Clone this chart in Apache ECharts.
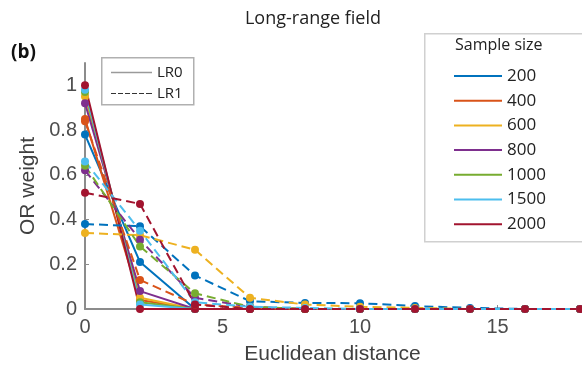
<!DOCTYPE html>
<html>
<head>
<meta charset="utf-8">
<script src="https://cdn.jsdelivr.net/npm/echarts@6/dist/echarts.min.js"></script>
<style>html,body{margin:0;padding:0;background:#fff}#c{width:582px;height:374px}</style>
</head>
<body>
<div id="c"></div>
<script>
const distances = [0, 2, 4, 6, 8, 10, 12, 14, 16, 18];
const sampleSizes = ['200', '400', '600', '800', '1000', '1500', '2000'];
const yTicks = [0, 0.2, 0.4, 0.6, 0.8, 1];
const xTicks = [0, 5, 10, 15];

// LR0 (solid lines)
const lr0_200  = [0.78, 0.21, 0.00, 0, 0, 0, 0, 0, 0, 0];
const lr0_400  = [0.85, 0.04, 0.00, 0, 0, 0, 0, 0, 0, 0];
const lr0_600  = [0.95, 0.05, 0.00, 0, 0, 0, 0, 0, 0, 0];
const lr0_800  = [0.92, 0.08, 0.00, 0, 0, 0, 0, 0, 0, 0];
const lr0_1000 = [0.97, 0.03, 0.00, 0, 0, 0, 0, 0, 0, 0];
const lr0_1500 = [0.98, 0.02, 0.00, 0, 0, 0, 0, 0, 0, 0];
const lr0_2000 = [1.00, 0.00, 0.00, 0, 0, 0, 0, 0, 0, 0];

// LR1 (dashed lines)
const lr1_200  = [0.38, 0.37, 0.15, 0.035, 0.027, 0.026, 0.013, 0.005, 0, 0];
const lr1_400  = [0.84, 0.13, 0.02, 0.005, 0, 0, 0, 0, 0, 0];
const lr1_600  = [0.34, 0.33, 0.265, 0.05, 0.02, 0.01, 0.005, 0, 0, 0];
const lr1_800  = [0.62, 0.31, 0.05, 0.01, 0, 0, 0, 0, 0, 0];
const lr1_1000 = [0.64, 0.28, 0.07, 0.01, 0, 0, 0, 0, 0, 0];
const lr1_1500 = [0.66, 0.35, 0.03, 0.01, 0.005, 0, 0, 0, 0, 0];
const lr1_2000 = [0.52, 0.47, 0.02, 0.00, 0, 0, 0, 0, 0, 0];

const lr0 = [lr0_200, lr0_400, lr0_600, lr0_800, lr0_1000, lr0_1500, lr0_2000];
const lr1 = [lr1_200, lr1_400, lr1_600, lr1_800, lr1_1000, lr1_1500, lr1_2000];
const colors = ['#0072BD', '#D95319', '#EDB120', '#7E2F8E', '#77AC30', '#4DBEEE', '#A2142F'];

function mk(name, vals, color, dashed) {
  return {
    type: 'line', name: name,
    data: distances.map((d, i) => [d, vals[i]]),
    symbol: 'circle', symbolSize: 8,
    itemStyle: { color: color },
    lineStyle: { color: color, width: 2, type: dashed ? [9, 5] : 'solid' },
    animation: false, clip: false
  };
}

const series = [];
sampleSizes.forEach((s, k) => series.push(mk(s, lr0[k], colors[k], false)));
sampleSizes.forEach((s, k) => series.push(mk(s, lr1[k], colors[k], true)));
series.push({ type: 'line', name: 'LR0', data: [], symbol: 'none', itemStyle: { color: '#9a9a9a' }, lineStyle: { color: '#9a9a9a', width: 2 } });
series.push({ type: 'line', name: 'LR1', data: [], symbol: 'none', itemStyle: { color: '#333' }, lineStyle: { color: '#333', width: 1, type: [3, 2] } });

const dashIcon = 'path://M0,0h5v1h-5zM7,0h5v1h-5zM14,0h5v1h-5zM21,0h5v1h-5zM28,0h5v1h-5zM35,0h6v1h-6z';

const chart = echarts.init(document.getElementById('c'), null, { renderer: 'canvas' });
chart.setOption({
  animation: false,
  backgroundColor: '#fff',
  grid: { left: 85, right: 2, top: 63, bottom: 65, containLabel: false },
  title: {
    text: 'Long-range field', left: 308, top: 5, textAlign: 'center',
    textStyle: { fontFamily: 'Open Sans', fontSize: 18, fontWeight: 'normal', color: '#222' }
  },
  xAxis: {
    type: 'value', min: 0, max: 18, interval: 5,
    name: 'Euclidean distance', nameLocation: 'middle', nameGap: 35,
    nameTextStyle: { fontFamily: 'Liberation Sans', fontSize: 21, color: '#404040' },
    axisLine: { show: true, lineStyle: { color: '#8c8c8c', width: 2 } },
    axisTick: { show: true, inside: true, length: 4, lineStyle: { color: '#8c8c8c' } },
    axisLabel: { fontFamily: 'Liberation Sans', fontSize: 20, color: '#4d4d4d', margin: 8, showMaxLabel: false,
      formatter: v => xTicks.includes(v) ? String(v) : '' },
    splitLine: { show: false }
  },
  yAxis: {
    type: 'value', min: 0, max: 1.1, interval: 0.2,
    name: 'OR weight', nameLocation: 'middle', nameGap: 44,
    nameTextStyle: { fontFamily: 'Liberation Sans', fontSize: 21, color: '#404040' },
    axisLine: { show: true, lineStyle: { color: '#8c8c8c', width: 2 } },
    axisTick: { show: true, inside: true, length: 4, lineStyle: { color: '#8c8c8c' } },
    axisLabel: { fontFamily: 'Liberation Sans', fontSize: 20, color: '#4d4d4d', margin: 8, showMaxLabel: false,
      formatter: v => { const t = yTicks.find(u => Math.abs(u - v) < 1e-6); return t === undefined ? '' : String(t); } },
    splitLine: { show: false }
  },
  legend: [
    {
      data: [{ name: 'LR0', icon: 'rect' }, { name: 'LR1', icon: dashIcon }],
      orient: 'vertical', left: 106, top: 59,
      itemWidth: 41, itemHeight: 1.5, itemGap: 4,
      textStyle: { fontFamily: 'Open Sans', fontSize: 15, color: '#222', lineHeight: 17 }
    },
    {
      data: sampleSizes.map(s => ({ name: s, icon: 'rect' })), orient: 'vertical', left: 449, top: 61,
      itemWidth: 48, itemHeight: 2, itemGap: 4.7,
      textStyle: { fontFamily: 'Open Sans', fontSize: 17, color: '#222', lineHeight: 20 }
    }
  ],
  graphic: [
    { type: 'rect', left: 101, top: 57, shape: { width: 92, height: 47 }, style: { fill: '#fff', stroke: '#b0b0b0', lineWidth: 1.5 }, z: 0 },
    { type: 'rect', left: 424, top: 33, shape: { width: 170, height: 208 }, style: { fill: '#fff', stroke: '#d0d0d0', lineWidth: 1.5 }, z: 0 },
    { type: 'text', left: 455, top: 37, style: { text: 'Sample size', fontFamily: 'Open Sans', fontSize: 16, fill: '#222' }, z: 5 },
    { type: 'text', left: 11, top: 43, style: { text: '(b)', fontFamily: 'Open Sans', fontSize: 19, fontWeight: 'bold', fill: '#111' }, z: 5 }
  ],
  series: series
});
</script>
</body>
</html>
